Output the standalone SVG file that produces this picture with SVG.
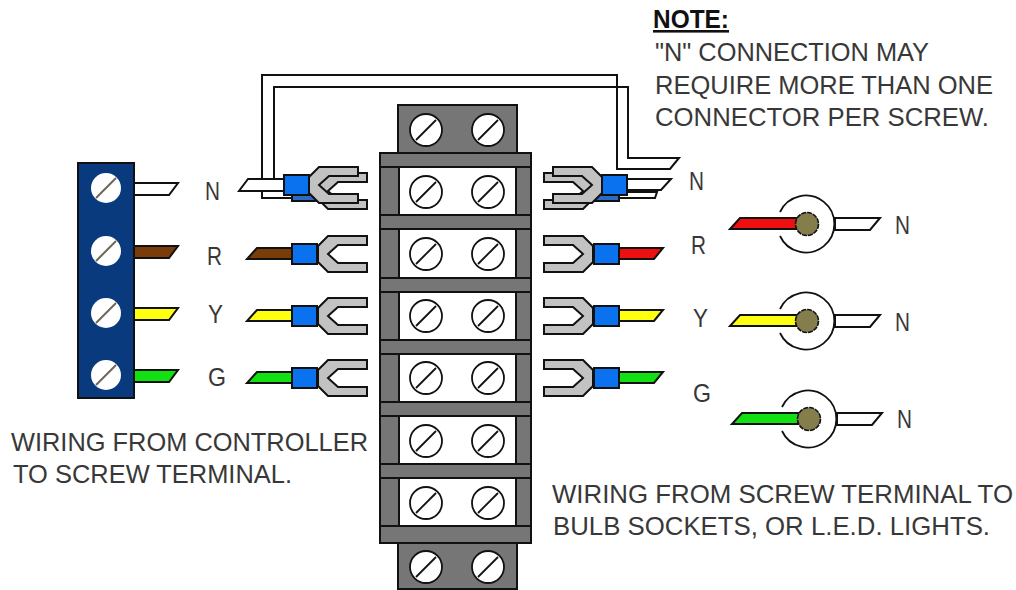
<svg xmlns="http://www.w3.org/2000/svg" xmlns:xlink="http://www.w3.org/1999/xlink" width="1016" height="590" viewBox="0 0 1016 590">
<style>
.o{stroke:#111;stroke-width:2;stroke-linejoin:miter}
.g{fill:#767676}
.fork{fill:#c2c2c2}
.blue{fill:#0a72ee}
.back{fill:#2a6cc4}
.w{fill:#fff}
.br{fill:#7a3d0a}
.r{fill:#ee1010}
.y{fill:#ffff10}
.gr{fill:#12e012}
.t{font-family:"Liberation Sans",Arial,sans-serif;font-size:26px;fill:#383838}
.l{font-size:25px}
.sl{stroke:#111;stroke-width:1.8;fill:none}
.ss{stroke:#6e6658;stroke-width:2;fill:none}
.arc{fill:none;stroke:#111;stroke-width:1.8}
</style>
<defs>
<polygon id="forkL" class="fork o" points="318,-8 328,-18 367,-18 367,-9 338,-9 328,0 338,9 367,9 367,18 328,18 318,8"/>
<polygon id="forkR" class="fork o" points="593,-8 583,-18 544,-18 544,-9 573,-9 583,0 573,9 544,9 544,18 583,18 593,8"/>
<g id="scr"><circle r="16" fill="#fff" stroke="#111" stroke-width="1.8"/><line class="sl" x1="-10" y1="10" x2="10" y2="-10"/></g>
<g id="pscr"><circle r="15" fill="#fff"/><line class="ss" x1="-10" y1="10" x2="10" y2="-10"/></g>
<polygon id="stub" class="o" points="0,0 44,0 35,12 0,12"/>
<polygon id="tipL" class="o" points="45,0 10,0 0,11 45,11"/>
<polygon id="tipR" class="o" points="0,0 44,0 35,11 0,11"/>
<g id="sock">
<path class="arc" d="M-27,-12 A28.5,28.5 0 1 1 -27,12"/>
<polygon class="w o" points="28,-6 73,-6 63,6 28,6"/>
<circle r="11.5" fill="#857d4c" stroke="#111" stroke-width="1.6" stroke-dasharray="5 1"/>
</g>
</defs>

<rect width="1016" height="590" fill="#fff"/>

<g id="connectors">
<polygon class="w o" points="262,198 292,198 292,186 274,186 274,87 628,87 628,158 679,158 670,169 617,169 617,75 262,75"/>
</g>

<g id="controller-terminal">
<rect class="o" x="78" y="163" width="56" height="235" fill="#0a3a7e"/>
<use xlink:href="#pscr" href="#pscr" x="106" y="188"/>
<use xlink:href="#pscr" href="#pscr" x="106" y="251"/>
<use xlink:href="#pscr" href="#pscr" x="106" y="313"/>
<use xlink:href="#pscr" href="#pscr" x="106" y="375"/>
<use class="w" xlink:href="#stub" href="#stub" x="134" y="183"/>
<use class="br" xlink:href="#stub" href="#stub" x="134" y="246"/>
<use class="y" xlink:href="#stub" href="#stub" x="134" y="308"/>
<use class="gr" xlink:href="#stub" href="#stub" x="134" y="370"/>
</g>

<g id="left-connector-n">
<rect class="back o" x="292" y="181" width="25" height="20"/>
<use xlink:href="#forkL" href="#forkL" y="191"/>
<polygon class="w o" points="292,179 248,179 239,191 292,191"/>
<use xlink:href="#forkL" href="#forkL" x="-9" y="185"/>
<rect class="blue o" x="284" y="175" width="25" height="20"/>
</g>
<g id="left-connector-r">
<use class="br" xlink:href="#tipL" href="#tipL" x="247" y="248"/>
<use xlink:href="#forkL" href="#forkL" y="254"/>
<rect class="blue o" x="292" y="244" width="25" height="20"/>
</g>
<g id="left-connector-y">
<use class="y" xlink:href="#tipL" href="#tipL" x="247" y="310"/>
<use xlink:href="#forkL" href="#forkL" y="316"/>
<rect class="blue o" x="292" y="306" width="25" height="20"/>
</g>
<g id="left-connector-g">
<use class="gr" xlink:href="#tipL" href="#tipL" x="247" y="372"/>
<use xlink:href="#forkL" href="#forkL" y="378"/>
<rect class="blue o" x="292" y="368" width="25" height="20"/>
</g>

<g id="terminal-block">
<rect class="g o" x="398" y="105" width="119" height="48"/>
<rect class="g o" x="398" y="543" width="119" height="46"/>
<rect class="g o" x="380" y="153" width="151" height="390"/>
<g class="w o">
<rect x="399" y="167" width="117" height="48"/>
<rect x="399" y="229" width="117" height="49"/>
<rect x="399" y="292" width="117" height="48"/>
<rect x="399" y="354" width="117" height="48"/>
<rect x="399" y="416" width="117" height="48"/>
<rect x="399" y="478" width="117" height="48"/>
</g>
<g fill="none" class="o">
<path d="M381,167H399M516,167H530M381,215H399M516,215H530M381,229H399M516,229H530M381,278H399M516,278H530M381,292H399M516,292H530M381,340H399M516,340H530M381,354H399M516,354H530M381,402H399M516,402H530M381,416H399M516,416H530M381,464H399M516,464H530M381,478H399M516,478H530M381,526H399M516,526H530"/>
</g>
<use xlink:href="#scr" href="#scr" x="426" y="130"/><use xlink:href="#scr" href="#scr" x="488" y="130"/>
<use xlink:href="#scr" href="#scr" x="426" y="192"/><use xlink:href="#scr" href="#scr" x="488" y="192"/>
<use xlink:href="#scr" href="#scr" x="426" y="254"/><use xlink:href="#scr" href="#scr" x="488" y="254"/>
<use xlink:href="#scr" href="#scr" x="426" y="316"/><use xlink:href="#scr" href="#scr" x="488" y="316"/>
<use xlink:href="#scr" href="#scr" x="426" y="378"/><use xlink:href="#scr" href="#scr" x="488" y="378"/>
<use xlink:href="#scr" href="#scr" x="426" y="441"/><use xlink:href="#scr" href="#scr" x="488" y="441"/>
<use xlink:href="#scr" href="#scr" x="426" y="503"/><use xlink:href="#scr" href="#scr" x="488" y="503"/>
<use xlink:href="#scr" href="#scr" x="426" y="567"/><use xlink:href="#scr" href="#scr" x="488" y="567"/>
</g>

<g id="right-connector-n">
<polygon class="w o" points="619,192 657,192 655,198 619,198"/>
<rect class="back o" x="594" y="181" width="25" height="20"/>
<use xlink:href="#forkR" href="#forkR" y="191"/>
<polygon class="w o" points="627,179 671,179 661,190 627,190"/>
<use xlink:href="#forkR" href="#forkR" x="9" y="185"/>
<rect class="blue o" x="602" y="175" width="25" height="20"/>
</g>
<g id="right-connector-r">
<use class="r" xlink:href="#tipR" href="#tipR" x="619" y="248"/>
<use xlink:href="#forkR" href="#forkR" y="254"/>
<rect class="blue o" x="594" y="244" width="25" height="20"/>
</g>
<g id="right-connector-y">
<use class="y" xlink:href="#tipR" href="#tipR" x="619" y="310"/>
<use xlink:href="#forkR" href="#forkR" y="316"/>
<rect class="blue o" x="594" y="306" width="25" height="20"/>
</g>
<g id="right-connector-g">
<use class="gr" xlink:href="#tipR" href="#tipR" x="619" y="372"/>
<use xlink:href="#forkR" href="#forkR" y="378"/>
<rect class="blue o" x="594" y="368" width="25" height="20"/>
</g>

<g id="socket-r">
<polygon class="r o" points="740,218 800,218 800,229 730,229"/>
<use xlink:href="#sock" href="#sock" x="807" y="224"/>
</g>
<g id="socket-y">
<polygon class="y o" points="740,315 800,315 800,326 730,326"/>
<use xlink:href="#sock" href="#sock" x="807" y="321"/>
</g>
<g id="socket-g">
<polygon class="gr o" points="742,413 802,413 802,424 732,424"/>
<use xlink:href="#sock" href="#sock" x="809" y="419"/>
</g>

<g id="labels">
<text class="t l" x="205" y="200" textLength="15" lengthAdjust="spacingAndGlyphs">N</text>
<text class="t l" x="207" y="265" textLength="15" lengthAdjust="spacingAndGlyphs">R</text>
<text class="t l" x="208" y="323" textLength="15" lengthAdjust="spacingAndGlyphs">Y</text>
<text class="t l" x="208" y="386" textLength="18" lengthAdjust="spacingAndGlyphs">G</text>
<text class="t l" x="689" y="190" textLength="15" lengthAdjust="spacingAndGlyphs">N</text>
<text class="t l" x="691" y="254" textLength="15" lengthAdjust="spacingAndGlyphs">R</text>
<text class="t l" x="693" y="327" textLength="15" lengthAdjust="spacingAndGlyphs">Y</text>
<text class="t l" x="693" y="402" textLength="18" lengthAdjust="spacingAndGlyphs">G</text>
<text class="t l" x="895" y="234" textLength="15" lengthAdjust="spacingAndGlyphs">N</text>
<text class="t l" x="895" y="331" textLength="15" lengthAdjust="spacingAndGlyphs">N</text>
<text class="t l" x="897" y="428" textLength="15" lengthAdjust="spacingAndGlyphs">N</text>
<text class="t" x="653" y="28" font-weight="bold" style="fill:#111" text-decoration="underline" textLength="76" lengthAdjust="spacingAndGlyphs">NOTE:</text>
<text class="t" x="655" y="61" textLength="274" lengthAdjust="spacingAndGlyphs">"N" CONNECTION MAY</text>
<text class="t" x="655" y="94" textLength="338" lengthAdjust="spacingAndGlyphs">REQUIRE MORE THAN ONE</text>
<text class="t" x="655" y="126" textLength="334" lengthAdjust="spacingAndGlyphs">CONNECTOR PER SCREW.</text>
<text class="t" x="11" y="451" textLength="357" lengthAdjust="spacingAndGlyphs">WIRING FROM CONTROLLER</text>
<text class="t" x="13" y="483" textLength="279" lengthAdjust="spacingAndGlyphs">TO SCREW TERMINAL.</text>
<text class="t" x="552" y="503" textLength="461" lengthAdjust="spacingAndGlyphs">WIRING FROM SCREW TERMINAL TO</text>
<text class="t" x="553" y="535" textLength="437" lengthAdjust="spacingAndGlyphs">BULB SOCKETS, OR L.E.D. LIGHTS.</text>
</g>
</svg>
